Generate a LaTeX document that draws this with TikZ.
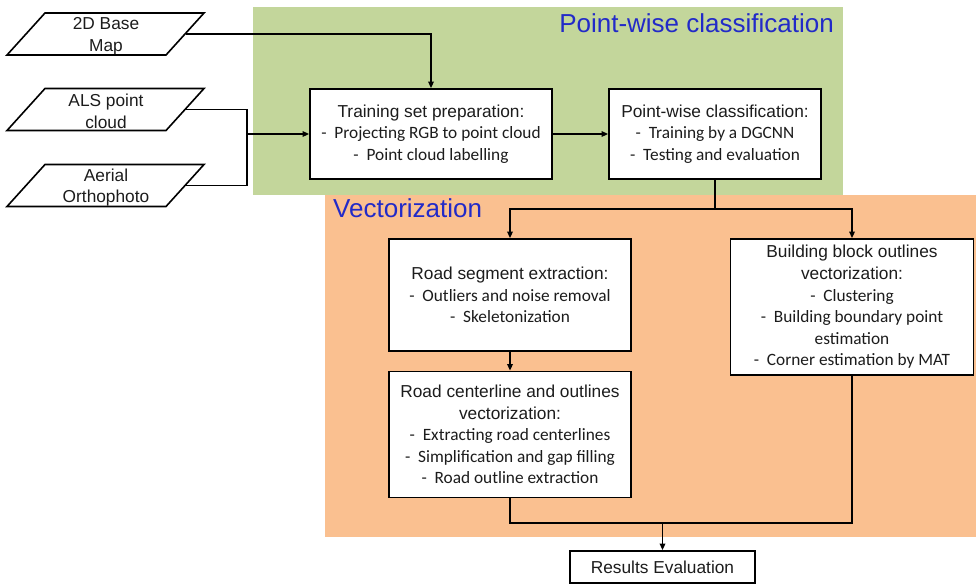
\documentclass[tikz,border=0pt]{standalone}
\usepackage{fontspec}
\setmainfont{Liberation Sans}
\newfontfamily\bulletfont{Carlito}
\usetikzlibrary{arrows.meta}

\definecolor{stagegreen}{RGB}{195,214,155}
\definecolor{stageorange}{RGB}{250,192,144}
\definecolor{stagetitle}{RGB}{34,42,200}
\definecolor{inktext}{RGB}{28,28,28}

% a bullet line set in the body font
\newcommand{\bl}[1]{{\bulletfont -\ \ #1}}
\newcommand{\bt}[1]{{\bulletfont #1}}

\begin{document}
\begin{tikzpicture}[x=1pt,y=-1pt,
  txt/.style={font=\fontsize{17.3}{21.6}\selectfont, text=inktext, align=center},
  procbox/.style={txt, draw=black, line width=1.8pt, fill=white, inner sep=0pt},
  databox/.style={txt, inner sep=0pt},
  stagelabel/.style={font=\fontsize{26}{30}\selectfont, text=stagetitle, inner sep=0pt},
  link/.style={line width=1.6pt, draw=black},
  flow/.style={link, -{Triangle[length=6.5pt,width=5.5pt]}},
  para/.style={line width=1.6pt, draw=black, line join=miter}
]
\useasboundingbox (0,0) rectangle (976,584);

% stage backgrounds
\fill[stagegreen] (253,7) rectangle (843,195);
\fill[stageorange] (325,195) rectangle (976,537);
\node[stagelabel, anchor=base east] (t1) at (834,32) {Point-wise classification};
\node[stagelabel, anchor=base west] (t2) at (333,217) {Vectorization};

% input data (parallelograms drawn round each text node)
\node[databox] (map)   at (106,36)    {2D Base\\Map};
\node[databox] (als)   at (106,111.5) {ALS point\\cloud};
\node[databox] (ortho) at (106,187.5) {Aerial\\Orthophoto};
\foreach \n in {map,als,ortho}{
  % shifts are in page points: negative y is downward
  \draw[para] ([shift={(-99pt,-19pt)}]\n.center) -- ++(159,0) -- ++(38,-42) -- ++(-159,0) -- cycle;
  \coordinate (\n-e) at ([xshift=80pt,yshift=2pt]\n.center);
}

% processing steps
\node[procbox, minimum width=242pt, minimum height=90pt] (train) at (431,134)
  {Training set preparation:\\ \bl{Projecting RGB to point cloud}\\ \bl{Point cloud labelling}};
\node[procbox, minimum width=212pt, minimum height=90pt] (pwc) at (715,134)
  {Point-wise classification:\\ \bl{Training by a DGCNN}\\ \bl{Testing and evaluation}};
\node[procbox, minimum width=242pt, minimum height=112pt] (roadseg) at (510,295)
  {Road segment extraction:\\ \bl{Outliers and noise removal}\\ \bl{Skeletonization}};
\node[procbox, minimum width=243pt, minimum height=136pt] (build) at (852,307)
  {Building block outlines\\ vectorization:\\ \bl{Clustering}\\ \bl{Building boundary point}\\ \bt{estimation}\\ \bl{Corner estimation by MAT}};
\node[procbox, minimum width=242pt, minimum height=126pt] (roadcl) at (510,434.5)
  {Road centerline and outlines\\ vectorization:\\ \bl{Extracting road centerlines}\\ \bl{Simplification and gap filling}\\ \bl{Road outline extraction}};
\node[procbox, minimum width=185pt, minimum height=32pt] (results) at (662.5,567)
  {Results Evaluation};

% junction points
\coordinate (join)  at (247,134);
\coordinate (split) at (pwc.south |- 0,209);
\coordinate (merge) at (results.north |- 0,523);

% connectors
\draw[flow] (map-e) -| (train.north);
\draw[link] (als-e) -| (join);
\draw[link] (ortho-e) -| (join);
\draw[flow] (join) -- (train.west);
\draw[flow] (train.east) -- (pwc.west);
\draw[link] (pwc.south) -- (split);
\draw[flow] (split) -| (roadseg.north);
\draw[flow] (split) -| (build.north);
\draw[flow] (roadseg.south) -- (roadcl.north);
\draw[link] (roadcl.south) |- (merge);
\draw[link] (build.south) |- (merge);
\draw[flow] (merge) -- (results.north);
\end{tikzpicture}
\end{document}
